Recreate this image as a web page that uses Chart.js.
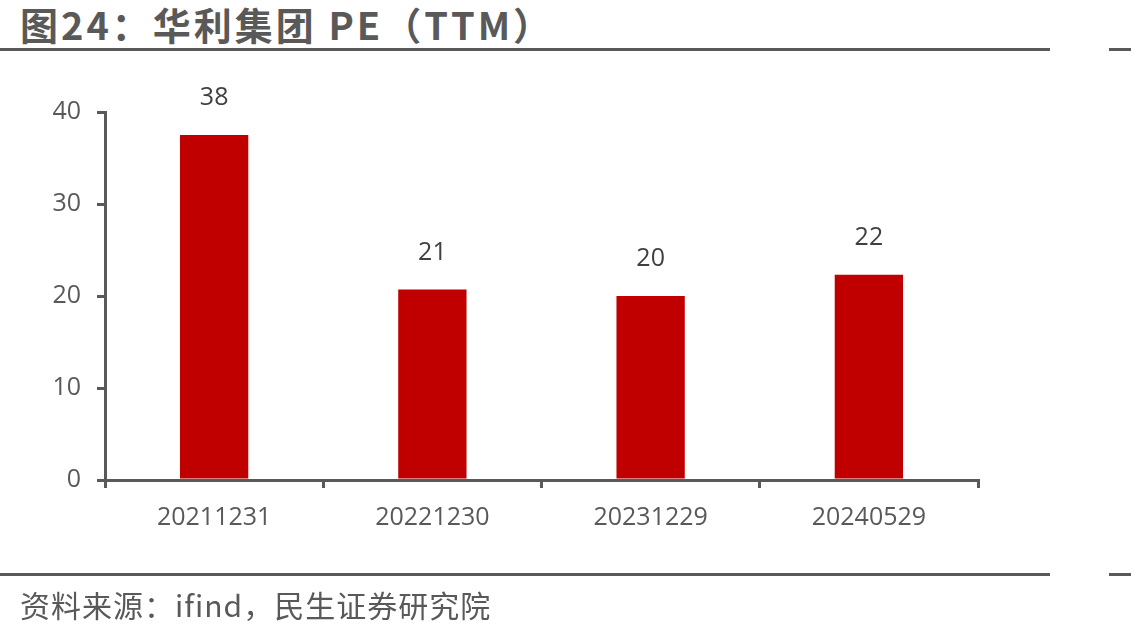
<!DOCTYPE html>
<html>
<head>
<meta charset="utf-8">
<script src="https://cdn.jsdelivr.net/npm/chart.js@4"></script>
<style>
  body { margin: 0; background: #fff; width: 1131px; height: 635px; overflow: hidden; position: relative; font-family: "Noto Sans CJK SC", "Open Sans", sans-serif; }
  #title { position: absolute; left: 20px; top: 0px; font-size: 38px; font-weight: bold; color: #595959; line-height: 48px; letter-spacing: 3px; }
  .rule { position: absolute; height: 3px; background: #595959; }
  #source { position: absolute; left: 20px; top: 584px; font-size: 30px; color: #595959; line-height: 40px; letter-spacing: 1px; }
  #chart { position: absolute; left: 0; top: 0; }
</style>
</head>
<body>
<div id="title">图24：华利集团 PE（TTM）</div>
<div class="rule" style="left:0;top:48px;width:1050px"></div>
<div class="rule" style="left:1109px;top:48px;width:22px"></div>
<canvas id="chart" width="1131" height="635"></canvas>
<div class="rule" style="left:0;top:573px;width:1050px"></div>
<div class="rule" style="left:1109px;top:573px;width:22px"></div>
<div id="source">资料来源：ifind，民生证券研究院</div>
<script>
const categories = ['20211231', '20221230', '20231229', '20240529'];
const peValues = [37.5, 20.7, 20.0, 22.3];
const yTicks = [0, 10, 20, 30, 40];

const axisColor = '#595959';
const textFont = { family: '"Open Sans", "Noto Sans CJK SC", sans-serif', size: 25 };

const barLabels = {
    id: 'barLabels',
    afterDatasetsDraw(chart) {
        const ctx = chart.ctx;
        const meta = chart.getDatasetMeta(0);
        ctx.save();
        ctx.fillStyle = '#404040';
        ctx.font = textFont.size + 'px ' + textFont.family;
        ctx.textAlign = 'center';
        ctx.textBaseline = 'middle';
        meta.data.forEach(function (bar, i) {
            ctx.fillText(Math.round(peValues[i]), bar.x, bar.y - 37);
        });
        ctx.restore();
    }
};

new Chart(document.getElementById('chart'), {
    type: 'bar',
    data: {
        labels: categories,
        datasets: [{
            data: peValues,
            backgroundColor: '#C00000',
            barPercentage: 0.313,
            categoryPercentage: 1
        }]
    },
    options: {
        responsive: false,
        animation: false,
        layout: { padding: { left: 0, right: 153, top: 112, bottom: 95 } },
        plugins: { legend: { display: false }, tooltip: { enabled: false } },
        scales: {
            x: {
                offset: true,
                afterFit(scale) { scale.height = 60; },
                border: { color: axisColor, width: 3 },
                grid: { offset: true, drawOnChartArea: false, color: axisColor, lineWidth: 3, tickLength: 8 },
                ticks: { color: '#595959', font: textFont, padding: 15, maxRotation: 0 }
            },
            y: {
                min: 0,
                max: 40,
                afterFit(scale) { scale.width = 105; },
                afterBuildTicks(scale) { scale.ticks = yTicks.map(v => ({ value: v })); },
                border: { color: axisColor, width: 3 },
                grid: { drawOnChartArea: false, color: axisColor, lineWidth: 3, tickLength: 8 },
                ticks: { color: '#595959', font: textFont, padding: 16 }
            }
        }
    },
    plugins: [barLabels]
});
</script>
</body>
</html>
